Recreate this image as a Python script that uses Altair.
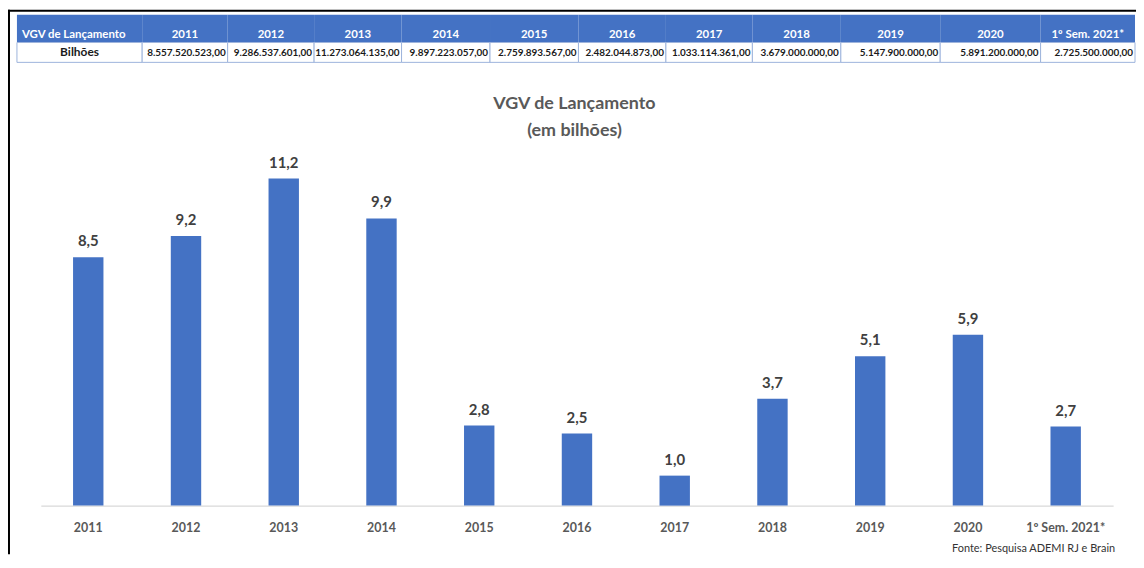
import altair as alt
import pandas as pd

# ---------------- data ----------------
categorias = ["2011", "2012", "2013", "2014", "2015", "2016", "2017",
              "2018", "2019", "2020", "1º Sem. 2021*"]
valores_reais = [8557520523.00, 9286537601.00, 11273064135.00, 9897223057.00,
                 2759893567.00, 2482044873.00, 1033114361.00, 3679000000.00,
                 5147900000.00, 5891200000.00, 2725500000.00]
rotulos = ["8,5", "9,2", "11,2", "9,9", "2,8", "2,5", "1,0", "3,7", "5,1", "5,9", "2,7"]
cabecalho_tabela = "VGV de Lançamento"
linha_tabela = "Bilhões"
titulo = "VGV de Lançamento\n(em bilhões)"
fonte = "Fonte: Pesquisa ADEMI RJ e Brain"

# ---------------- layout (table column edges, px) ----------------
bordas_colunas = [9, 135, 221, 308, 396, 485, 574, 662, 749, 838, 938, 1039, 1134]

W, H = 1135, 548
AZUL = "#4472C4"
FONT = "Lato"


def fmt_br(v):
    s = f"{v:,.2f}"
    return s.replace(",", "X").replace(".", ",").replace("X", ".")


valores_tabela = [fmt_br(v) for v in valores_reais]

df_bar = pd.DataFrame({
    "cat": categorias,
    "valor": [v / 1e9 for v in valores_reais],
    "rotulo": rotulos,
})

cab = [cabecalho_tabela] + categorias
lin = [linha_tabela] + valores_tabela
df_tab = pd.DataFrame({
    "x0": bordas_colunas[:-1],
    "x1": bordas_colunas[1:],
    "cab": cab,
    "lin": lin,
})
df_tab["mid"] = (df_tab["x0"] + df_tab["x1"]) / 2
df_tab["xr"] = df_tab["x1"] - 2
df_tab["xl"] = df_tab["x0"] + 5

# ---------------- border ----------------
borda_top = alt.Chart(pd.DataFrame({"a": [0]})).mark_rule(color="#000000", strokeWidth=2).encode(
    x=alt.value(0), x2=alt.value(W), y=alt.value(1))
borda_left = alt.Chart(pd.DataFrame({"a": [0]})).mark_rule(color="#000000", strokeWidth=2).encode(
    x=alt.value(1), y=alt.value(0), y2=alt.value(H))

# ---------------- table ----------------
tab_base = alt.Chart(df_tab)
hdr_rect = tab_base.mark_rect(color=AZUL).encode(
    x=alt.X("x0:Q", scale=None, axis=None), x2="x1:Q",
    y=alt.value(5), y2=alt.value(33))
row_rect = tab_base.mark_rect(fill="white", stroke="#9DB3DC", strokeWidth=1).encode(
    x=alt.X("x0:Q", scale=None, axis=None), x2="x1:Q",
    y=alt.value(33), y2=alt.value(53))
hdr_first = tab_base.transform_filter(alt.datum.x0 == bordas_colunas[0]).mark_text(
    font=FONT, fontSize=11.5, fontWeight="bold", color="white", align="left", baseline="middle").encode(
    x=alt.X("xl:Q", scale=None, axis=None), y=alt.value(25), text="cab:N")
hdr_years = tab_base.transform_filter(alt.datum.x0 != bordas_colunas[0]).mark_text(
    font=FONT, fontSize=11.5, fontWeight="bold", color="white", align="center", baseline="middle").encode(
    x=alt.X("mid:Q", scale=None, axis=None), y=alt.value(25), text="cab:N")
row_first = tab_base.transform_filter(alt.datum.x0 == bordas_colunas[0]).mark_text(
    font=FONT, fontSize=12, fontWeight="bold", color="#1a1a1a", align="center", baseline="middle").encode(
    x=alt.X("mid:Q", scale=None, axis=None), y=alt.value(43), text="lin:N")
row_vals = tab_base.transform_filter(alt.datum.x0 != bordas_colunas[0]).mark_text(
    font=FONT, fontSize=10, fontWeight="bold", color="#1a1a1a", align="right", baseline="middle").encode(
    x=alt.X("xr:Q", scale=None, axis=None), y=alt.value(44), text="lin:N")

# ---------------- bars ----------------
xenc = alt.X("cat:N", sort=categorias, title=None,
             scale=alt.Scale(range=[33, 1112], paddingInner=0.689, paddingOuter=0.33),
             axis=alt.Axis(offset=-(H - 499), labelAngle=0, ticks=False, domainColor="#D9D9D9",
                           domainWidth=1.2, labelFont=FONT, labelFontSize=12.5, labelFontWeight="bold",
                           labelColor="#595959", labelPadding=16))
yenc = alt.Y("valor:Q", title=None, axis=None,
             scale=alt.Scale(domain=[0, 12], range=[499, 499 - 12 * 29.2]))

bars = alt.Chart(df_bar).mark_bar(color=AZUL).encode(x=xenc, y=yenc)
labels = alt.Chart(df_bar).mark_text(font=FONT, fontSize=15, fontWeight="bold", color="#404040",
                                     baseline="middle", dy=-16).encode(x=xenc, y=yenc, text="rotulo:N")

# ---------------- titles ----------------
title_txt = alt.Chart(pd.DataFrame({"t": [titulo]})).mark_text(
    font=FONT, fontSize=18, fontWeight="bold", color="#595959", align="center", baseline="middle",
    lineBreak="\n", lineHeight=27).encode(x=alt.value(570), y=alt.value(95), text="t:N")
fonte_txt = alt.Chart(pd.DataFrame({"t": [fonte]})).mark_text(
    font=FONT, fontSize=11, color="#333333", align="right", baseline="bottom").encode(
    x=alt.value(1114), y=alt.value(H), text="t:N")

chart = alt.layer(
    borda_top, borda_left, hdr_rect, row_rect, hdr_first, hdr_years, row_first, row_vals,
    bars, labels, title_txt, fonte_txt
).properties(
    width=W, height=H, padding=0, autosize=alt.AutoSizeParams(type="none"), background="white"
).configure_view(stroke=None)

chart.save("out.html", embed_options={"renderer": "svg", "actions": False})
